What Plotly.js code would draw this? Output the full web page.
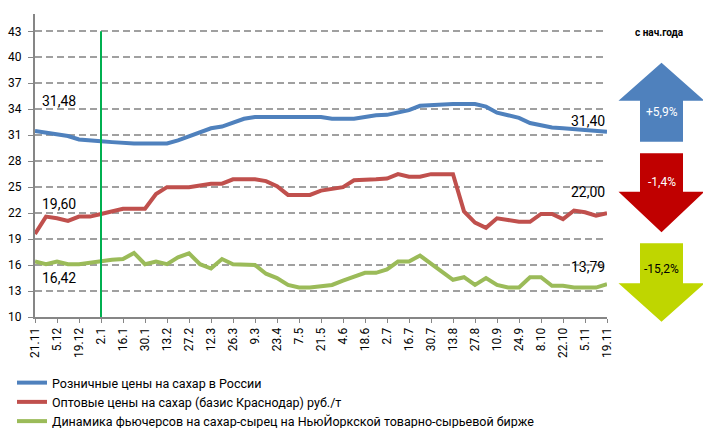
<!DOCTYPE html>
<html>
<head>
<meta charset="utf-8">
<script src="https://cdn.plot.ly/plotly-3.0.1.min.js"></script>
<style>html,body{margin:0;padding:0;background:#fff}#chart{width:703px;height:428px}</style>
</head>
<body>
<div id="chart"></div>
<script>
// weekly dates (index 20 is labelled "9.3" in the source)
const weeks = ['21.11','28.11','5.12','12.12','19.12','26.12','2.1','9.1','16.1','23.1','30.1','6.2','13.2','20.2','27.2','5.3','12.3','19.3','26.3','2.4','9.3','16.4','23.4','30.4','7.5','14.5','21.5','28.5','4.6','11.6','18.6','25.6','2.7','9.7','16.7','23.7','30.7','6.8','13.8','20.8','27.8','3.9','10.9','17.9','24.9','1.10','8.10','15.10','22.10','29.10','5.11','12.11','19.11'];
const tickLabels = weeks.filter((w, i) => i % 2 === 0);

const retail = [31.48,31.3,31.1,30.9,30.5,30.35,30.3,30.2,30.1,30.05,30.05,30.05,30.05,30.4,30.9,31.4,31.8,32.0,32.5,32.9,33.1,33.1,33.1,33.1,33.1,33.1,33.1,32.9,32.85,32.9,33.1,33.3,33.35,33.6,33.9,34.4,34.5,34.55,34.6,34.6,34.6,34.3,33.6,33.3,33.0,32.4,32.1,31.9,31.8,31.7,31.65,31.45,31.40];
const wholesale = [19.6,21.6,21.4,21.1,21.6,21.6,21.9,22.2,22.5,22.5,22.5,24.2,25.0,25.0,25.0,25.2,25.4,25.4,25.9,25.9,25.9,25.7,25.1,24.1,24.1,24.1,24.6,24.8,25.0,25.8,25.8,25.9,26.0,26.5,26.2,26.2,26.5,26.5,26.5,22.2,20.9,20.3,21.4,21.2,21.0,21.0,21.9,21.9,21.3,22.3,22.1,21.7,22.0];
const futures = [16.42,16.1,16.4,16.1,16.1,16.3,16.45,16.6,16.7,17.4,16.1,16.4,16.1,16.9,17.35,16.1,15.6,16.7,16.1,16.0,16.0,15.0,14.5,13.7,13.4,13.4,13.6,13.7,14.2,14.6,15.1,15.1,15.5,16.4,16.4,17.1,16.2,15.2,14.3,14.6,13.7,14.5,13.7,13.4,13.4,14.6,14.6,13.6,13.6,13.4,13.4,13.4,13.79];

const seriesNames = ['Розничные цены на сахар в России','Оптовые цены на сахар (базис Краснодар) руб./т','Динамика фьючерсов на сахар-сырец на НьюЙоркской товарно-сырьевой бирже'];
const seriesColors = ['#4F81BD','#C0504D','#9BBB59'];
const yearStart = '2.1';
const changeTitle = 'с нач.года';
const changes = ['+5,9%','-1,4%','-15,2%'];
const arrowColors = ['#4F81BD','#C00000','#BFD600'];
const arrowTextColors = ['#FFFFFF','#FFFFFF','#000000'];

const W = 703, H = 428;
const M = {l:35, r:96, t:14, b:111};
const PW = W - M.l - M.r, PH = H - M.t - M.b;
const px = x => (x - M.l) / PW;
const py = y => (H - M.b - y) / PH;
const fmt = v => v.toFixed(2).replace('.', ',');

const data = [retail, wholesale, futures].map((s, k) => ({
  x: weeks, y: s, type: 'scatter', mode: 'lines', name: seriesNames[k], legendgroup: 'g' + k,
  line: {color: seriesColors[k], width: 4}
}));

// arrows (pixel geometry -> paper)
function arrow(cx, top, headY, bottom, up) {
  const hw = 43, sw = 21.5;
  let pts;
  if (up) {
    pts = [[cx, top],[cx+hw, headY],[cx+sw, headY],[cx+sw, bottom],[cx-sw, bottom],[cx-sw, headY],[cx-hw, headY]];
  } else {
    pts = [[cx-sw, top],[cx+sw, top],[cx+sw, headY],[cx+hw, headY],[cx, bottom],[cx-hw, headY],[cx-sw, headY]];
  }
  return 'M' + pts.map(p => px(p[0]).toFixed(5) + ',' + py(p[1]).toFixed(5)).join('L') + 'Z';
}
const arrowGeo = [
  {top:62.7, head:100.7, bottom:141.7, up:true, ty:112},
  {top:153.3, head:191.7, bottom:232.3, up:false, ty:181.5},
  {top:243.3, head:283.3, bottom:321.7, up:false, ty:269}
];
const cx = 661.5;
const shapes = arrowGeo.map((g, k) => ({
  type:'path', xref:'paper', yref:'paper', path: arrow(cx, g.top, g.head, g.bottom, g.up),
  fillcolor: arrowColors[k], line:{width:0}, layer:'above'
}));
shapes.push({type:'line', xref:'x', yref:'y', x0: weeks.indexOf(yearStart), x1: weeks.indexOf(yearStart), y0:10, y1:43,
  line:{color:'#00B050', width:2}, layer:'above'});

const labelFont = {family:'Roboto, Open Sans, sans-serif', size:14, color:'#000'};
const last = weeks.length - 1;
const annotations = [
  {x:0, y:retail[0], text:fmt(retail[0]), xanchor:'left', yanchor:'middle', xshift:5, yshift:30},
  {x:0, y:wholesale[0], text:fmt(wholesale[0]), xanchor:'left', yanchor:'middle', xshift:5, yshift:30},
  {x:0, y:futures[0], text:fmt(futures[0]), xanchor:'left', yanchor:'middle', xshift:5, yshift:-17},
  {x:last, y:retail[last], text:fmt(retail[last]), xanchor:'right', yanchor:'middle', xshift:0, yshift:11},
  {x:last, y:wholesale[last], text:fmt(wholesale[last]), xanchor:'right', yanchor:'middle', xshift:0, yshift:21},
  {x:last, y:futures[last], text:fmt(futures[last]), xanchor:'right', yanchor:'middle', xshift:0, yshift:17}
].map(a => Object.assign({xref:'x', yref:'y', showarrow:false, font:labelFont}, a));

annotations.push({xref:'paper', yref:'paper', x:px(659), y:py(32), text:'<b>'+changeTitle+'</b>', showarrow:false,
  xanchor:'center', yanchor:'middle', font:{family:'Roboto, sans-serif', size:10, color:'#000'}});
arrowGeo.forEach((g, k) => annotations.push({xref:'paper', yref:'paper', x:px(cx), y:py(g.ty), text:changes[k], showarrow:false,
  xanchor:'center', yanchor:'middle', font:{family:'Roboto, sans-serif', size:12, color:arrowTextColors[k]}}));

const layout = {
  width: W, height: H, margin: Object.assign({autoexpand:false}, M), paper_bgcolor:'#fff', plot_bgcolor:'#fff',
  showlegend: true,
  legend: {orientation:'v', xref:'container', yref:'container', x: 12/W, y: 1 - 368/H, xanchor:'left', yanchor:'top',
    font:{family:'Liberation Sans Narrow, Roboto, sans-serif', size:12.5, color:'#000'}, bgcolor:'rgba(0,0,0,0)',
    tracegroupgap:2, traceorder:'normal'},
  xaxis: {type:'category', range:[0, last], tickmode:'array', tickvals: tickLabels, ticktext: tickLabels,
    tickangle:-90, showgrid:false, zeroline:false, showline:true, linecolor:'#868686', linewidth:2,
    ticks:'outside', ticklen:4, tickcolor:'#868686', tickwidth:1,
    tickfont:{family:'Roboto, sans-serif', size:12, color:'#000'}},
  yaxis: {range:[10, 45], tickmode:'array', tickvals:[10,13,16,19,22,25,28,31,34,37,40,43],
    showgrid:true, gridcolor:'#A0A0A0', gridwidth:2, griddash:'7px,4px', zeroline:false,
    showline:true, linecolor:'#868686', linewidth:2, ticks:'outside', ticklen:5, tickcolor:'#868686',
    ticklabelstandoff:4,
    tickfont:{family:'Roboto, sans-serif', size:12, color:'#000'}},
  shapes: shapes, annotations: annotations
};
Plotly.newPlot('chart', data, layout, {displayModeBar:false, staticPlot:true});
</script>
</body>
</html>
